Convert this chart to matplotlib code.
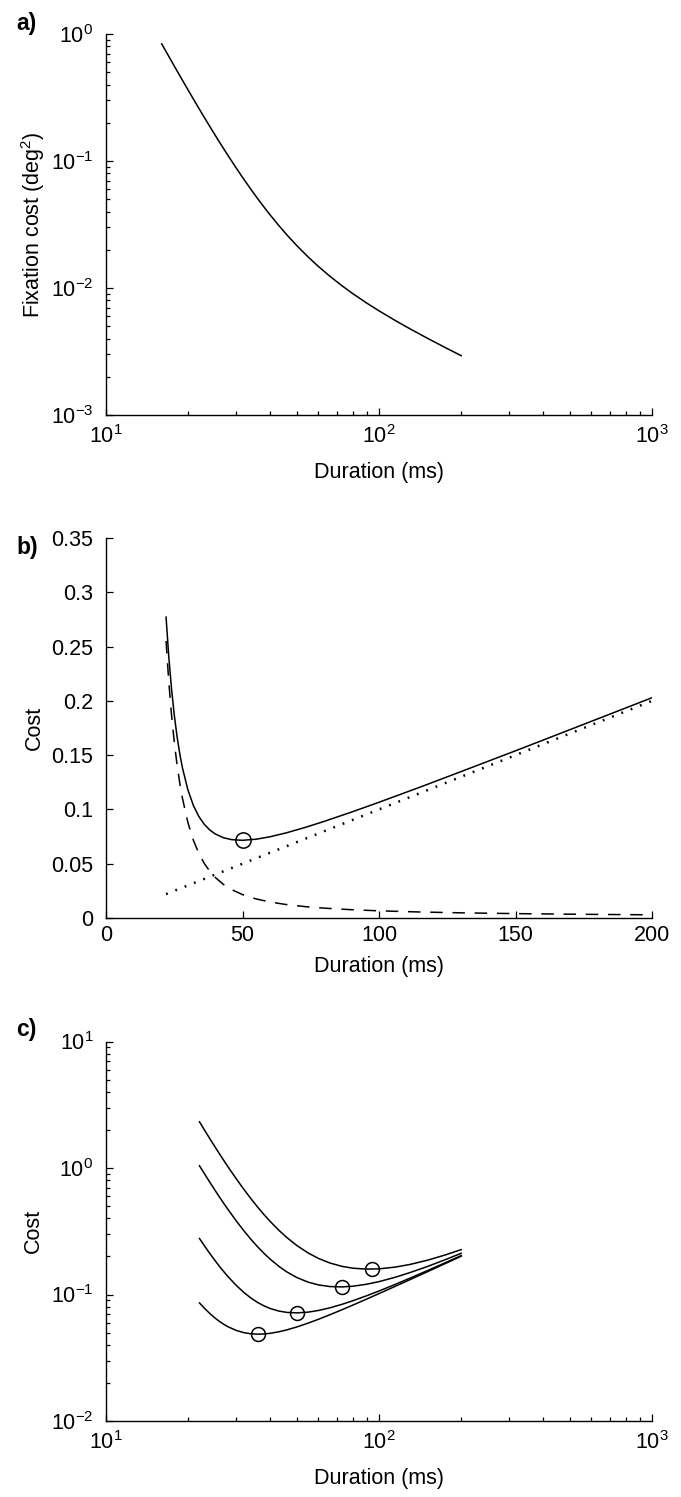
import matplotlib.pyplot as plt
from matplotlib.ticker import NullFormatter

plt.rcParams['font.family'] = ['Liberation Sans', 'DejaVu Sans']
plt.rcParams['mathtext.fontset'] = 'custom'
plt.rcParams['mathtext.rm'] = 'Liberation Sans'
plt.rcParams['axes.unicode_minus'] = False
plt.rcParams['lines.scale_dashes'] = False

# durations (ms)
dur_a = [16, 17, 18, 19, 20, 21, 22, 23, 24, 25, 26, 27, 28, 30, 32, 34, 36, 38,
         40, 43, 46, 50, 55, 60, 66, 73, 80, 90, 100, 115, 130, 150, 175, 200]
# a) fixation cost (deg^2)
fix_cost = [0.8360, 0.6637, 0.5349, 0.4369, 0.3613, 0.3020, 0.2551, 0.2175,
            0.1871, 0.1622, 0.1416, 0.1246, 0.1103, 0.08796, 0.07168, 0.05953,
            0.05027, 0.04309, 0.03742, 0.03095, 0.02618, 0.02156, 0.01756,
            0.01477, 0.01240, 0.01046, 0.009058, 0.007629, 0.006610, 0.005528,
            0.004764, 0.004034, 0.003393, 0.002932]

# b) and c) start at 22 ms
dur_bc = [22, 23, 24, 25, 26, 27, 28, 30, 32, 34, 36, 38, 40, 43, 46, 50, 55,
          60, 66, 73, 80, 90, 100, 115, 130, 150, 175, 200]
fix_cost_b = fix_cost[6:]
time_cost_x = [22, 200]
time_cost = [0.022, 0.200]
total_cost = [0.2771, 0.2405, 0.2111, 0.1872, 0.1676, 0.1516, 0.1383, 0.1180,
              0.1037, 0.09353, 0.08627, 0.08109, 0.07742, 0.07395, 0.07218,
              0.07156, 0.07256, 0.07477, 0.07840, 0.08346, 0.08906, 0.09763,
              0.1066, 0.1205, 0.1348, 0.1540, 0.1784, 0.2029]

# c) four cost curves
cost_c1 = [0.08578, 0.07738, 0.07076, 0.06554, 0.06141, 0.05814, 0.05557,
           0.05199, 0.04992, 0.04888, 0.04857, 0.04877, 0.04936, 0.05074,
           0.05255, 0.05539, 0.05939, 0.06369, 0.06910, 0.07561, 0.08226,
           0.09191, 0.1017, 0.1164, 0.1312, 0.1510, 0.1758, 0.2007]
cost_c2 = total_cost
cost_c3 = [1.042, 0.8930, 0.7722, 0.6736, 0.5925, 0.5253, 0.4691, 0.3819, 0.3187,
           0.2721, 0.2371, 0.2104, 0.1897, 0.1668, 0.1507, 0.1362, 0.1252, 0.1191,
           0.1156, 0.1148, 0.1162, 0.1205, 0.1264, 0.1371, 0.1491, 0.1661, 0.1886,
           0.2117]
cost_c4 = [2.318, 1.981, 1.707, 1.484, 1.301, 1.148, 1.020, 0.8217, 0.6772,
           0.5698, 0.4884, 0.4258, 0.3768, 0.3216, 0.2816, 0.2440, 0.2130, 0.1929,
           0.1776, 0.1671, 0.1615, 0.1587, 0.1595, 0.1648, 0.1729, 0.1863, 0.2055,
           0.2264]
opt_dur = [36, 50, 73, 94]
opt_cost = [0.04857, 0.07156, 0.1148, 0.1588]

b_yticks = [0, 0.05, 0.1, 0.15, 0.2, 0.25, 0.3, 0.35]
b_yticklabels = ['0', '0.05', '0.1', '0.15', '0.2', '0.25', '0.3', '0.35']
b_xticks = [0, 50, 100, 150, 200]

FS = 15.5
LW = 1.1


def style(ax):
    ax.spines['top'].set_visible(False)
    ax.spines['right'].set_visible(False)
    for s in ('left', 'bottom'):
        ax.spines[s].set_linewidth(1.0)
    ax.tick_params(which='both', direction='in', labelsize=FS, width=0.9)
    ax.tick_params(which='major', length=5)
    ax.tick_params(which='minor', length=3)
    ax.tick_params(axis='y', pad=9)
    ax.tick_params(axis='x', pad=7)


fig = plt.figure(figsize=(6.81, 14.97), dpi=100)
left, width = 106 / 681, 546 / 681

# a)
ax1 = fig.add_axes([left, 1 - 415 / 1497, width, 381 / 1497])
ax1.loglog(dur_a, fix_cost, 'k-', lw=LW)
ax1.set_xlim(10, 1000)
ax1.set_ylim(1e-3, 1)
ax1.xaxis.set_minor_formatter(NullFormatter())
ax1.yaxis.set_minor_formatter(NullFormatter())
style(ax1)
ax1.set_xlabel('Duration (ms)', fontsize=FS, labelpad=10)
ax1.set_ylabel(r'Fixation cost (deg$^\mathregular{2}$)', fontsize=FS, labelpad=3)
fig.text(16 / 681, 1 - 12 / 1497, 'a)', fontsize=FS + 1, fontweight='bold', va='top')

# b)
ax2 = fig.add_axes([left, 1 - 918 / 1497, width, 380 / 1497])
ax2.plot(dur_bc, total_cost, 'k-', lw=LW)
ax2.plot(dur_bc, fix_cost_b, 'k-', lw=LW, dashes=(9, 7))
ax2.plot(time_cost_x, time_cost, 'k-', lw=1.8, dashes=(1.3, 5.9))
ax2.plot(50, total_cost[15], 'o', mec='k', mfc='none', ms=11, mew=LW)
ax2.set_xlim(0, 200)
ax2.set_ylim(0, 0.35)
ax2.set_xticks(b_xticks)
ax2.set_yticks(b_yticks)
ax2.set_yticklabels(b_yticklabels)
style(ax2)
ax2.tick_params(axis='x', pad=5)
ax2.set_xlabel('Duration (ms)', fontsize=FS, labelpad=7)
ax2.set_ylabel('Cost', fontsize=FS, labelpad=5)
fig.text(16 / 681, 1 - 536 / 1497, 'b)', fontsize=FS + 1, fontweight='bold', va='top')

# c)
ax3 = fig.add_axes([left, 1 - 1421 / 1497, width, 379.5 / 1497])
for c in (cost_c1, cost_c2, cost_c3, cost_c4):
    ax3.loglog(dur_bc, c, 'k-', lw=LW)
ax3.plot(opt_dur, opt_cost, 'o', mec='k', mfc='none', ms=10, mew=LW, ls='none')
ax3.set_xlim(10, 1000)
ax3.set_ylim(1e-2, 10)
ax3.xaxis.set_minor_formatter(NullFormatter())
ax3.yaxis.set_minor_formatter(NullFormatter())
style(ax3)
ax3.set_xlabel('Duration (ms)', fontsize=FS, labelpad=10)
ax3.set_ylabel('Cost', fontsize=FS, labelpad=5)
fig.text(16 / 681, 1 - 1018 / 1497, 'c)', fontsize=FS + 1, fontweight='bold', va='top')

fig.savefig('out.png', dpi=100)
